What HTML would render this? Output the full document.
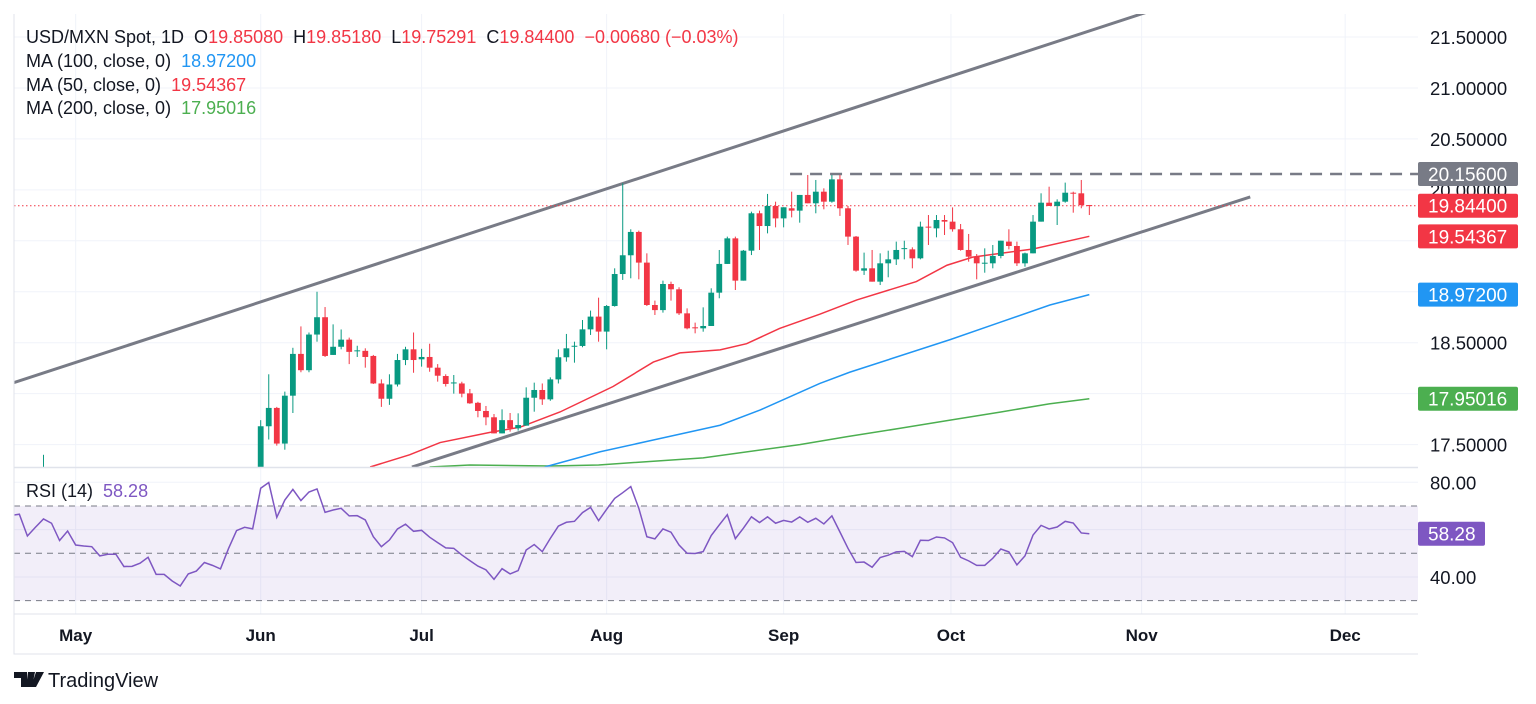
<!DOCTYPE html>
<html><head><meta charset="utf-8"><style>
html,body{margin:0;padding:0;background:#fff;width:1536px;height:704px;overflow:hidden}
svg{display:block;font-family:"Liberation Sans",Arial,sans-serif}
</style></head><body>
<svg id="chart" width="1536" height="704" viewBox="0 0 1536 704" xmlns="http://www.w3.org/2000/svg">
<defs>
<clipPath id="pclip"><rect x="14" y="14" width="1404" height="453"/></clipPath>
<clipPath id="rclip"><rect x="14" y="468" width="1404" height="146"/></clipPath>
</defs>
<g id="grid"></g>
<g id="price" clip-path="url(#pclip)"></g>
<g id="rsi" clip-path="url(#rclip)"></g>
<g id="axes"></g>
<g font-size="18">
<text x="26" y="43" fill="#131722">USD/MXN Spot, 1D&#160; O<tspan fill="#f23645">19.85080</tspan>&#160; H<tspan fill="#f23645">19.85180</tspan>&#160; L<tspan fill="#f23645">19.75291</tspan>&#160; C<tspan fill="#f23645">19.84400</tspan>&#160; <tspan fill="#f23645">−0.00680 (−0.03%)</tspan></text>
<text x="26" y="67" fill="#131722">MA (100, close, 0)&#160; <tspan fill="#2196f3">18.97200</tspan></text>
<text x="26" y="91" fill="#131722">MA (50, close, 0)&#160; <tspan fill="#f23645">19.54367</tspan></text>
<text x="26" y="114" fill="#131722">MA (200, close, 0)&#160; <tspan fill="#4caf50">17.95016</tspan></text>
<text x="26" y="497" fill="#131722">RSI (14)&#160; <tspan fill="#7e57c2">58.28</tspan></text>
</g>
<g>
<path d="M14 672h13v15h-6v-9h-7z M28 672h7l-3 15h-6z M36 672h8l-8 15h-5z" fill="#131722"/>
<text x="48" y="687" font-size="20" fill="#131722">TradingView</text>
</g>
</svg>
<script>
const NS='http://www.w3.org/2000/svg';
// price data, bar index -27 .. 103
const opens=[17.05,17.02,16.95,16.9,16.85,16.8,16.78,16.72,16.75,16.7,16.65,16.6,16.62,16.68,16.75,16.8,16.85,16.78,16.82,16.9,16.95,17,17.05,17.1,17.12,17.15,17.1,
17.05,17.68,17.86,17.51,17.98,18.39,18.23,18.58,18.75,18.38,18.46,18.53,18.42,18.42,18.37,18.10,17.95,18.09,18.33,18.435,18.337,18.36,18.255,18.173,18.10,18.10,18.003,17.91,17.83,17.768,17.61,17.74,17.66,17.686,17.96,18.036,17.944,18.14,18.357,18.466,18.468,18.631,18.756,18.609,18.86,19.174,19.358,19.587,19.286,18.87,18.82,19.076,19.024,18.788,18.651,18.641,18.664,18.991,19.273,19.524,19.109,19.403,19.77,19.645,19.842,19.72,19.819,19.796,19.95,19.868,19.982,19.884,20.103,19.819,19.541,19.207,19.23,19.099,19.279,19.318,19.424,19.416,19.328,19.639,19.622,19.704,19.688,19.613,19.41,19.344,19.279,19.279,19.351,19.492,19.449,19.279,19.377,19.688,19.874,19.842,19.884,19.972,19.966,19.8508];
const highs=[17.40,17.1,17.05,17.0,16.95,16.9,16.85,16.82,16.8,16.78,16.72,16.7,16.7,16.75,16.82,16.88,16.9,16.88,16.92,16.98,17.02,17.08,17.12,17.15,17.18,17.2,17.18,
17.74,18.19,17.87,18.02,18.45,18.66,18.60,19.00,18.85,18.68,18.63,18.55,18.47,18.445,18.38,18.14,18.19,18.39,18.46,18.60,18.44,18.49,18.29,18.19,18.183,18.117,18.046,17.92,17.879,17.80,17.846,17.81,17.807,18.062,18.108,18.10,18.16,18.435,18.586,18.51,18.723,18.815,18.942,18.87,19.23,20.064,19.613,19.60,19.377,18.913,19.109,19.099,19.044,18.837,18.697,18.847,19.034,19.41,19.541,19.541,19.41,19.786,19.796,19.96,19.884,19.829,19.982,19.95,20.146,20.097,20.015,20.146,20.146,19.842,19.547,19.384,19.41,19.377,19.403,19.492,19.501,19.436,19.688,19.753,19.753,19.753,19.828,19.665,19.567,19.37,19.426,19.459,19.501,19.613,19.492,19.384,19.753,19.966,20.031,19.907,20.071,19.982,20.097,19.8518];
const lows=[17.0,16.95,16.9,16.85,16.8,16.75,16.72,16.68,16.68,16.62,16.58,16.56,16.58,16.64,16.7,16.75,16.76,16.74,16.78,16.86,16.9,16.96,17.02,17.06,17.08,17.06,17.02,
16.95,17.55,17.49,17.45,17.81,18.21,18.21,18.51,18.36,18.38,18.435,18.29,18.36,18.255,18.095,17.87,17.89,18.07,18.28,18.205,18.265,18.215,18.118,18.07,18.00,17.964,17.90,17.768,17.69,17.61,17.61,17.627,17.637,17.686,17.823,17.89,17.93,18.10,18.314,18.304,18.455,18.576,18.51,18.435,18.854,19.116,19.132,19.122,18.86,18.772,18.795,18.913,18.772,18.631,18.592,18.608,18.664,18.936,19.273,19.017,19.109,19.36,19.41,19.573,19.632,19.632,19.73,19.678,19.868,19.77,19.809,19.874,19.744,19.459,19.197,19.165,19.099,19.066,19.142,19.263,19.318,19.23,19.318,19.459,19.534,19.557,19.59,19.403,19.295,19.122,19.187,19.23,19.328,19.416,19.253,19.246,19.377,19.688,19.842,19.655,19.874,19.776,19.819,19.7529];
const closes=[17.10,16.95,16.9,16.85,16.8,16.78,16.72,16.75,16.7,16.65,16.6,16.62,16.68,16.75,16.8,16.85,16.78,16.82,16.9,16.95,17,17.05,17.1,17.12,17.15,17.1,17.05,
17.68,17.86,17.51,17.98,18.39,18.23,18.58,18.75,18.37,18.46,18.53,18.41,18.425,18.36,18.10,17.95,18.09,18.33,18.435,18.33,18.36,18.255,18.176,18.095,18.11,18.00,17.905,17.83,17.768,17.61,17.74,17.66,17.692,17.96,18.036,17.944,18.14,18.357,18.445,18.47,18.631,18.756,18.609,18.86,19.174,19.358,19.587,19.286,18.87,18.82,19.076,19.024,18.788,18.641,18.641,18.664,18.991,19.273,19.524,19.109,19.403,19.77,19.645,19.842,19.72,19.829,19.796,19.95,19.868,19.982,19.884,20.103,19.819,19.541,19.207,19.23,19.099,19.279,19.318,19.41,19.428,19.328,19.639,19.632,19.704,19.688,19.613,19.41,19.344,19.279,19.285,19.351,19.501,19.449,19.279,19.377,19.688,19.874,19.842,19.884,19.972,19.966,19.851,19.844];
const firstBar=-27;
// moving averages: bar index / value samples
const ma50Idx=[13.6,18.5,22.3,28.5,32.2,37.2,43.8,48.8,52.1,57.1,60.4,64.5,69.5,74.1,81.5,85.3,88.5,96,103];
const ma50Val=[17.28,17.40,17.52,17.62,17.67,17.82,18.07,18.31,18.40,18.43,18.49,18.64,18.78,18.92,19.10,19.26,19.34,19.42,19.544];
const ma100Idx=[35.3,42.2,48.8,57.1,62.1,69.5,73.2,85.7,91.9,98.1,103];
const ma100Val=[17.28,17.43,17.545,17.69,17.84,18.10,18.21,18.53,18.70,18.87,18.972];
const ma200Idx=[21,26,36,42,55,67,73,79.5,85.7,92,98,103];
const ma200Val=[17.28,17.30,17.29,17.30,17.37,17.50,17.58,17.66,17.74,17.82,17.90,17.95];
// channel trendlines [idx, price]
const upperLine=[[-31,18.1],[110,21.74]];
const lowerLine=[[18.8,17.28],[123,19.93]];
const resistance=20.156;
const lastClose=19.844;
// RSI, bar index -31 .. 103
const rsiFirst=-31;
const rsiVals=[66,66.5,57.3,61,64.5,62.7,55.4,59.4,53.5,53.1,52.8,48.9,49.6,49.6,44.4,44.5,45.8,48.3,41.1,41.1,38.3,36.2,41.3,42.5,46.1,44.9,43.4,52,59.6,61,60.3,
77.5,79.9,65.2,72.5,77,72.3,75.9,77.2,67.3,68.3,69,65.8,65.9,64.1,57,52.8,55.6,60.3,62.3,59.3,59.7,56.8,54.5,52.3,52.1,49.3,46.9,44.6,43,39,43.5,41.3,42.7,51.4,53.7,50.7,56.3,61.5,63.1,63.5,67.2,69.4,63.8,68.6,73.2,75.6,78.2,69,57,56.1,60.3,58.9,53.5,50,49.9,50.7,57.5,62,66.3,56.2,60.6,65.4,63,65.4,62.7,63.9,63.2,65.4,63.1,64.8,62.4,65.8,59,52.1,46.1,46.3,44.1,48.2,49.2,50.6,50.8,48.6,55.5,55.4,56.9,56.5,54.5,48.3,46.8,44.9,44.9,47.9,51.8,50.6,45.1,48.9,57.7,61.8,60.3,61.1,63.5,62.8,58.6,58.28];
const priceTicks=[17.5,18,18.5,19,19.5,20,20.5,21,21.5];
const priceTickLabels=["17.50000","","18.50000","","","20.00000","20.50000","21.00000","21.50000"];
const rsiTicks=[80,60,40];
const rsiTickLabels=["80.00","","40.00"];
const monthLabels=["May","Jun","Jul","Aug","Sep","Oct","Nov","Dec"];
const monthIdx=[-23,0,20,43,65,85.8,109.5,134.8];

const X=i=>260.7+8.045*i;
const Y=p=>37+(21.5-p)*101.9;
const R=r=>553.3-(r-50)*2.367;

function mk(tag,attrs,parent){const e=document.createElementNS(NS,tag);for(const k in attrs)e.setAttribute(k,attrs[k]);parent.appendChild(e);return e;}
const grid=document.getElementById('grid'),price=document.getElementById('price'),rsi=document.getElementById('rsi'),axes=document.getElementById('axes');

priceTicks.forEach(p=>{const l=mk('line',{x1:14,x2:1418,y1:Y(p),y2:Y(p),stroke:'#f0f3fa','stroke-width':1},grid);

});
rsiTicks.forEach(r=>{const l=mk('line',{x1:14,x2:1418,y1:R(r),y2:R(r),stroke:'#f0f3fa'},grid);

});
monthIdx.forEach(m=>{const l=mk('line',{x1:X(m),x2:X(m),y1:14,y2:614,stroke:'#f0f3fa'},grid);

});

function seg(pts,attrs,name){const l=mk('line',Object.assign({x1:X(pts[0][0]),y1:Y(pts[0][1]),x2:X(pts[1][0]),y2:Y(pts[1][1])},attrs),price);

}
seg(upperLine,{stroke:'#787b86','stroke-width':3},'upper-channel-line');
seg(lowerLine,{stroke:'#787b86','stroke-width':3},'lower-channel-line');
const res=mk('line',{x1:X(65.8),x2:1418,y1:Y(resistance),y2:Y(resistance),stroke:'#787b86','stroke-width':2.5,'stroke-dasharray':'12,8'},price);


const lc=mk('line',{x1:14,x2:1418,y1:Y(lastClose),y2:Y(lastClose),stroke:'#f23645','stroke-width':1,'stroke-dasharray':'1.5,2.5'},price);



function poly(idx,val,color,name,scale,parent){const pts=idx.map((d,i)=>X(d)+','+scale(val[i])).join(' ');
const p=mk('polyline',{points:pts,fill:'none',stroke:color,'stroke-width':1.5},parent);

}
poly(ma200Idx,ma200Val,'#4caf50','ma200-line',Y,price);
poly(ma100Idx,ma100Val,'#2196f3','ma100-line',Y,price);
poly(ma50Idx,ma50Val,'#f23645','ma50-line',Y,price);

opens.forEach((o,k)=>{const i=firstBar+k,c=closes[k],h=highs[k],l=lows[k];const col=c>=o?'#089981':'#f23645';const x=X(i);
const w=mk('line',{x1:x,x2:x,y1:Y(h),y2:Y(l),stroke:col,'stroke-width':1},price);


const top=Y(Math.max(o,c)),bh=Math.max(1,Math.abs(Y(o)-Y(c)));
const b=mk('rect',{x:x-2.9,y:top,width:5.8,height:bh,fill:col},price);

});

const band=mk('rect',{x:14,y:R(70),width:1404,height:R(30)-R(70),fill:'#7e57c2','fill-opacity':0.1},rsi);


[70,50,30].forEach(v=>{const l=mk('line',{x1:14,x2:1418,y1:R(v),y2:R(v),stroke:'#787b86','stroke-width':1,'stroke-dasharray':'6,5'},rsi);

});
const rp=mk('polyline',{points:rsiVals.map((v,k)=>X(rsiFirst+k)+','+R(v)).join(' '),fill:'none',stroke:'#7e57c2','stroke-width':1.5},rsi);



const fr=mk('path',{d:'M14 14V654H1418 M14 614H1418',fill:'none',stroke:'#e0e3eb','stroke-width':1},axes);


const dv=mk('line',{x1:14,x2:1418,y1:467.5,y2:467.5,stroke:'#e0e3eb','stroke-width':1.5},axes);



priceTicks.forEach((p,k)=>{if(!priceTickLabels[k])return;const t=mk('text',{x:1430,y:Y(p)+7,'font-size':18.5,fill:'#131722'},axes);t.textContent=priceTickLabels[k];

});
rsiTicks.forEach((r,k)=>{if(!rsiTickLabels[k])return;const t=mk('text',{x:1430,y:R(r)+7,'font-size':18.5,fill:'#131722'},axes);t.textContent=rsiTickLabels[k];

});
monthLabels.forEach((m,k)=>{const t=mk('text',{x:X(monthIdx[k]),y:641,'font-size':17,'font-weight':'bold','text-anchor':'middle',fill:'#131722'},axes);t.textContent=m;

});

function badge(yv,txt,col,name,w){const g=mk('g',{},axes);


mk('rect',{x:1418,y:yv-12,width:w,height:24,rx:2,fill:col},g);
const t=mk('text',{x:1428,y:yv+7,'font-size':19,fill:'#fff'},g);t.textContent=txt;}
badge(Y(resistance),'20.15600','#787b86','resistance-badge',100);
badge(Y(lastClose),'19.84400','#f23645','last-price-badge',100);
badge(Y(ma50Val[ma50Val.length-1]),'19.54367','#f23645','ma50-badge',100);
badge(Y(ma100Val[ma100Val.length-1]),'18.97200','#2196f3','ma100-badge',100);
badge(Y(ma200Val[ma200Val.length-1]),'17.95016','#4caf50','ma200-badge',100);
badge(R(rsiVals[rsiVals.length-1]),'58.28','#7e57c2','rsi-badge',67);
</script>
</body></html>
